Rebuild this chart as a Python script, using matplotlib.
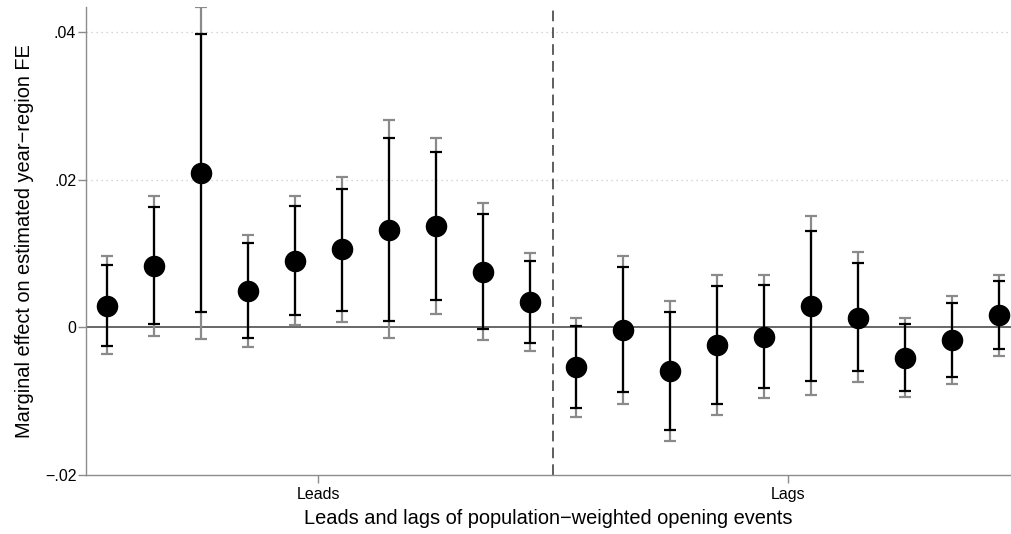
import matplotlib
matplotlib.use("Agg")
import matplotlib.pyplot as plt
import numpy as np

plt.rcParams["font.family"] = ["Liberation Sans", "DejaVu Sans"]

# event-time positions: 10 leads then 10 lags
periods = list(range(1, 21))
coef = [0.00294, 0.00827, 0.02093, 0.00498, 0.00900, 0.01063, 0.01325, 0.01370, 0.00751, 0.00344,
        -0.00542, -0.00035, -0.00591, -0.00244, -0.00126, 0.00285, 0.00131, -0.00411, -0.00171, 0.00172]
# inner (black) interval
ci_lo_in = [-0.00258, 0.00046, 0.00208, -0.00144, 0.00172, 0.00226, 0.00091, 0.00371, -0.00027, -0.00207,
            -0.01098, -0.00881, -0.01385, -0.01044, -0.00827, -0.00723, -0.00597, -0.00858, -0.00668, -0.00298]
ci_hi_in = [0.00850, 0.01627, 0.03973, 0.01139, 0.01641, 0.01881, 0.02563, 0.02369, 0.01532, 0.00904,
            0.00023, 0.00814, 0.00209, 0.00556, 0.00579, 0.01307, 0.00873, 0.00041, 0.00325, 0.00629]
# outer (grey) interval
ci_lo_out = [-0.00366, -0.00113, -0.00163, -0.00266, 0.00027, 0.00077, -0.00149, 0.00182, -0.00176, -0.00316,
             -0.01211, -0.01044, -0.01541, -0.01193, -0.00963, -0.00922, -0.00740, -0.00949, -0.00763, -0.00388]
ci_hi_out = [0.00963, 0.01776, 0.04344, 0.01257, 0.01786, 0.02043, 0.02803, 0.02568, 0.01687, 0.01013,
             0.00127, 0.00972, 0.00362, 0.00710, 0.00710, 0.01505, 0.01017, 0.00127, 0.00426, 0.00714]

group_ticks = [5.5, 15.5]
group_labels = ["Leads", "Lags"]
y_ticks = [-0.02, 0, 0.02, 0.04]
y_ticklabels = ["\u2212.02", "0", ".02", ".04"]

W, H = 1011, 534
fig = plt.figure(figsize=(W / 100, H / 100), dpi=100)
ax = fig.add_axes([86 / W, (H - 475) / H, (W - 86) / W, (475 - 7) / H])

x = np.array(periods, dtype=float)
y = np.array(coef)

# light dotted gridlines
for g in [0.02, 0.04]:
    ax.axhline(g, color="#c8c8c8", lw=0.9, ls=(0, (1, 3)), zorder=0)
ax.axhline(0, color="#5a5a5a", lw=1.3, zorder=1)
ax.axvline(10.5, color="#333333", lw=1.1, ls=(0, (7, 4)), zorder=1)

grey = "#8a8a8a"
ax.errorbar(x, y, yerr=[y - np.array(ci_lo_out), np.array(ci_hi_out) - y], fmt="none",
            ecolor=grey, elinewidth=1.6, capsize=4.2, capthick=1.6, zorder=2)
ax.errorbar(x, y, yerr=[y - np.array(ci_lo_in), np.array(ci_hi_in) - y], fmt="none",
            ecolor="black", elinewidth=1.6, capsize=4.2, capthick=1.6, zorder=3)
ax.plot(x, y, "o", color="black", markersize=14.5, zorder=4)

ax.set_xlim(0.553, 20.256)
ax.set_ylim(-0.02, 0.0434)
ax.set_xticks(group_ticks)
ax.set_xticklabels(group_labels, fontsize=11.5)
ax.set_yticks(y_ticks)
ax.set_yticklabels(y_ticklabels, fontsize=11.5)

for side in ["top", "right"]:
    ax.spines[side].set_visible(False)
for side in ["left", "bottom"]:
    ax.spines[side].set_color("#8c8c8c")
    ax.spines[side].set_linewidth(1.0)
ax.tick_params(axis="both", colors="#8c8c8c", labelcolor="black", length=5.5, width=1.0)
ax.tick_params(axis="y", pad=1.5)
ax.tick_params(axis="x", pad=3)

ax.set_xlabel("Leads and lags of population\u2212weighted opening events", fontsize=14.4, labelpad=5)
ax.set_ylabel("Marginal effect on estimated year\u2212region FE", fontsize=14.4, labelpad=8)

fig.savefig("out.png", dpi=100)
